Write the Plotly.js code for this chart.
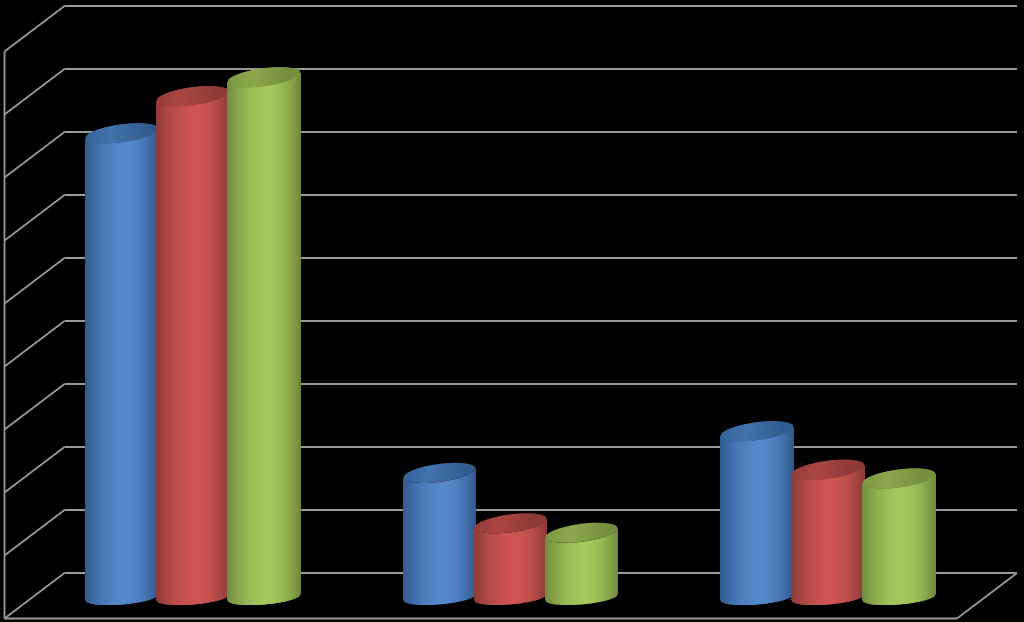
<!DOCTYPE html>
<html>
<head>
<meta charset="utf-8">
<script src="https://cdn.plot.ly/plotly-3.0.1.min.js"></script>
<style>html,body{margin:0;padding:0;background:#000;overflow:hidden}#chart{width:1024px;height:622px}</style>
</head>
<body>
<div id="chart"></div>
<script>
// Values, in gridline units
var categories = [0, 1, 2];
var seriesBlue = [7.36, 1.97, 2.63];
var seriesRed = [7.95, 1.17, 2.02];
var seriesGreen = [8.25, 1.02, 1.88];
var wallLevels = [0, 1, 2, 3, 4, 5, 6, 7, 8, 9];

var W = 1024, H = 622, PX_X = 317.5, PX_Y = 63, X0 = 193, Y0 = 597;
var xRange = [-X0 / PX_X, (W - X0) / PX_X];
var yRange = [(Y0 - H) / PX_Y, Y0 / PX_Y];
function xv(px) { return (px - X0) / PX_X; }
function yv(px) { return (Y0 - px) / PX_Y; }

var styles = [
  {vals: seriesBlue, off: -1, bright: [84, 136, 204], dark: [50, 90, 142], capB: [66, 115, 172], capD: [50, 92, 142]},
  {vals: seriesRed, off: 0, bright: [206, 84, 81], dark: [140, 60, 56], capB: [170, 70, 66], capD: [140, 58, 54]},
  {vals: seriesGreen, off: 1, bright: [165, 199, 92], dark: [114, 140, 62], capB: [140, 168, 76], capD: [118, 142, 62]}
];
var STEP = 71, A = 36, CAP_B = 9, CAP_T = 4.5, BOT_B = 7, BOT_T = 3;

function mix(d, b, f) {
  return 'rgb(' + [0, 1, 2].map(function (i) { return Math.round(d[i] + (b[i] - d[i]) * f); }).join(',') + ')';
}

// wall + floor frame, behind the bars
var shapes = [];
function seg(x0, y0, x1, y1) {
  shapes.push({type: 'line', xref: 'x', yref: 'y', layer: 'below', x0: xv(x0), y0: yv(y0), x1: xv(x1), y1: yv(y1), line: {color: '#999999', width: 1.8}});
}
var backL = 64.5, frontL = 4.5, backR = 1017, frontR = 957, backBase = 573, frontBase = 618.5;
wallLevels.forEach(function (k) {
  var by = backBase - 63 * k;
  seg(frontL, by + 45.5, backL, by);
  seg(backL, by, backR, by);
});
seg(frontL, backBase - 63 * 9 + 45.5, frontL, frontBase);
seg(frontL, frontBase, frontR, frontBase);
seg(frontR, frontBase, backR, backBase);

var traces = [];
styles.forEach(function (s) {
  var x = [], base = [], y = [], w = [], c = [];
  categories.forEach(function (cat, i) {
    var cx = cat + s.off * STEP / PX_X, top = s.vals[i];
    for (var p = -A; p <= A; p += 1) {
      var u = p / A, r = Math.sqrt(Math.max(0, 1 - u * u));
      var d = u > 0.1 ? (u - 0.1) / 0.9 : (0.1 - u) / 1.1;
      var f = Math.max(0, 1 - Math.pow(d, 1.8));
      // body
      var lowY = (-0.5 - BOT_B * r + BOT_T * u) / PX_Y;
      var capLow = top + (-CAP_B * r + CAP_T * u) / PX_Y;
      x.push(cx + p / PX_X); w.push(1 / PX_X);
      base.push(lowY); y.push(capLow - lowY); c.push(mix(s.dark, s.bright, f));
      // cap
      var capHigh = top + (CAP_B * r + CAP_T * u) / PX_Y;
      x.push(cx + p / PX_X); w.push(1 / PX_X);
      base.push(capLow); y.push(capHigh - capLow); c.push(mix(s.capD, s.capB, Math.max(0, 1 - Math.abs(u + 0.3))));
    }
  });
  traces.push({type: 'bar', x: x, y: y, base: base, width: w, marker: {color: c, line: {width: 0}}, hoverinfo: 'skip', showlegend: false, cliponaxis: false});
});

var layout = {
  width: W, height: H,
  margin: {l: 0, r: 0, t: 0, b: 0},
  paper_bgcolor: '#000', plot_bgcolor: '#000',
  barmode: 'overlay',
  showlegend: false,
  shapes: shapes,
  xaxis: {range: xRange, visible: false, fixedrange: true},
  yaxis: {range: yRange, visible: false, fixedrange: true}
};
Plotly.newPlot('chart', traces, layout, {displayModeBar: false});
</script>
</body>
</html>
